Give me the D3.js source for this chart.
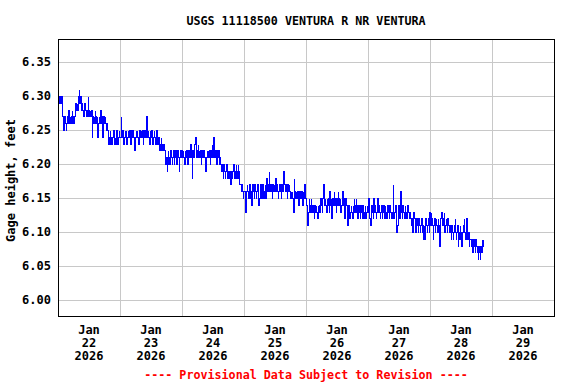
<!DOCTYPE html>
<html>
<head>
<meta charset="utf-8">
<script src="https://cdn.jsdelivr.net/npm/d3@7"></script>
<style>
  body { margin: 0; background: #fff; }
  text { font-family: "DejaVu Sans Mono", monospace; font-weight: bold; font-size: 12px; }
</style>
</head>
<body>
<svg width="576" height="384"></svg>
<script>
const width = 576;
const height = 384;

// gage height, hundredths of a foot above 6.00 ft, every 15 minutes from midnight
const jan22 = [30,30,29,30,29,30,
  27,26,25,26,27,26,25,26,27,26,28,26,27,26,27,28,26,27,26,27,
  28,29,28,29,28,30,31,29,30,28,
  29,28,27,28,27,29,28,27,28,27,30,28,27,28,27,28,
  24,27,26,27,26,28,27,26,27,24,26,27,26,28,26,27,24,26,27,26,27,26,25,26,25,
  24,23,24,25,23,24,23,24,25,24,23,24,23,25,24,23,24,25,24];
const jan23 = [24,27,24,25,24,23,24,25,24,25,23,24,25,24,25,24,23,25,24,25,
  24,23,22,24,25,24,25,24,23,24,25,24,25,24,25,23,24,25,24,25,
  24,27,24,25,24,23,25,24,25,24,23,24,25,24,23,24,25,24,23,
  24,23,22,23,24,22,23,22,23,22,
  21,20,21,19,21,22,20,21,20,22,21,20,21,22,20,21,22,21,20,21,22,21,19,21,22,21,22];
const jan24 = [21,22,21,20,22,21,22,21,20,21,22,21,22,23,21,18,22,21,22,23,
  24,22,21,22,23,21,22,21,22,20,21,22,21,22,21,20,19,21,22,21,
  22,21,22,20,21,22,23,21,24,22,21,22,21,20,22,21,22,20,21,
  20,19,20,19,18,20,19,18,19,20,19,18,19,
  18,19,18,17,19,18,19,20,18,19,18,20,19,18,20,19,18,17,
  17,16,17,16,15,16];
const jan25 = [16,15,13,16,17,16,15,16,17,15,16,14,16,17,16,15,17,16,15,16,
  17,16,14,15,16,17,16,15,17,16,15,16,17,15,18,16,
  17,16,19,17,16,17,16,15,17,16,17,16,18,16,17,16,15,16,17,16,
  17,15,16,17,16,19,17,16,17,16,15,17,16,17,16,
  15,16,15,16,15,13,18,16,15,16,15,16,15,14,16,15,16,15,16,14,16,15,17,16,15];
const jan26 = [14,12,11,13,15,14,13,15,14,13,14,13,12,14,13,14,13,12,14,13,14,13,
  15,14,13,15,16,17,14,15,14,13,15,14,15,13,16,14,15,12,14,15,
  14,16,15,14,13,15,14,16,15,14,15,13,14,15,16,14,15,12,14,15,14,
  13,11,14,13,12,13,14,13,12,14,13,15,14,13,15,14,12,13,14,13,
  12,14,13,12,14,13,12,13,14,12,13,14,13];
const jan27 = [15,13,12,11,13,14,13,12,15,13,14,13,12,13,15,13,14,13,12,13,
  14,12,13,14,13,12,14,13,12,13,14,13,12,14,13,12,13,12,17,13,
  12,13,14,12,10,11,13,14,12,13,16,13,12,14,13,12,13,14,12,13,
  12,14,13,12,13,
  12,11,12,10,11,13,12,11,10,11,12,11,10,12,11,10,11,12,10,11,
  9,11,10,9,12,11,10,11,12,10,13];
const jan28 = [11,13,12,11,9,11,12,10,11,12,11,10,12,11,8,11,12,13,11,12,
  11,13,10,11,12,11,10,12,11,10,11,
  10,9,11,10,9,10,11,12,10,9,10,11,8,10,9,11,10,8,9,10,
  11,12,10,9,11,12,10,9,10,8,9,
  9,8,9,7,8,9,8,7,9,8,7,8,6,8,7,6,8,7,9,8,9];

const days = [jan22, jan23, jan24, jan25, jan26, jan27, jan28];
const dayLabels = ["22", "23", "24", "25", "26", "27", "28", "29"];
const monthLabel = "Jan";
const yearLabel = "2026";
const yTicks = [6.00, 6.05, 6.10, 6.15, 6.20, 6.25, 6.30, 6.35];

const data = [];
days.forEach((vals, d) => {
  vals.forEach((v, i) => {
    data.push({ date: new Date(2026, 0, 22 + d, 0, 15 * i), value: 6 + v / 100 });
  });
});

const plotLeft = 58, plotRight = 554, plotTop = 39, plotBottom = 316;

const x = d3.scaleTime()
  .domain([new Date(2026, 0, 22), new Date(2026, 0, 30)])
  .range([plotLeft, plotRight]);
const y = d3.scaleLinear()
  .domain([5.9765, 6.3838])
  .range([plotBottom, plotTop]);

const svg = d3.select("svg");

// grid
const grid = svg.append("g")
    .attr("stroke", "#c8c8c8")
    .attr("stroke-width", 1)
    .attr("shape-rendering", "crispEdges");
grid.selectAll("line.h")
  .data(yTicks)
  .join("line")
    .attr("class", "h")
    .attr("x1", plotLeft).attr("x2", plotRight)
    .attr("y1", d => Math.round(y(d)) + 0.5)
    .attr("y2", d => Math.round(y(d)) + 0.5);
const dayTicks = d3.timeDay.range(new Date(2026, 0, 23), new Date(2026, 0, 30));
grid.selectAll("line.v")
  .data(dayTicks)
  .join("line")
    .attr("class", "v")
    .attr("y1", plotTop).attr("y2", plotBottom)
    .attr("x1", d => Math.round(x(d)) + 0.5)
    .attr("x2", d => Math.round(x(d)) + 0.5);

// data line
svg.append("path")
    .datum(data)
    .attr("fill", "none")
    .attr("stroke", "#0000ff")
    .attr("stroke-width", 1.2)
    .attr("shape-rendering", "crispEdges")
    .attr("d", d3.line()
      .curve(d3.curveStepAfter)
      .x(d => Math.round(x(d.date)) + 0.5)
      .y(d => Math.round(y(d.value)) + 0.5));

// frame
svg.append("rect")
    .attr("x", plotLeft + 0.5).attr("y", plotTop + 0.5)
    .attr("width", plotRight - plotLeft).attr("height", plotBottom - plotTop)
    .attr("fill", "none")
    .attr("stroke", "#000")
    .attr("shape-rendering", "crispEdges");

// y tick labels
svg.append("g")
  .selectAll("text")
  .data(yTicks)
  .join("text")
    .attr("x", 51)
    .attr("y", d => y(d))
    .attr("dy", "0.37em")
    .attr("text-anchor", "end")
    .text(d => d.toFixed(2));

// x tick labels at noon
const labelDays = d3.timeDay.range(new Date(2026, 0, 22), new Date(2026, 0, 30));
const xl = svg.append("g")
  .selectAll("text")
  .data(labelDays)
  .join("text")
    .attr("text-anchor", "middle")
    .attr("y", 334);
xl.each(function(d, i) {
  const cx = x(d3.timeHour.offset(d, 12));
  const t = d3.select(this);
  t.append("tspan").attr("x", cx).text(monthLabel);
  t.append("tspan").attr("x", cx).attr("dy", 13).text(dayLabels[i]);
  t.append("tspan").attr("x", cx).attr("dy", 13).text(yearLabel);
});

svg.append("text")
    .attr("x", (plotLeft + plotRight) / 2)
    .attr("y", 25)
    .attr("text-anchor", "middle")
    .style("font-size", "11.7px")
    .text("USGS 11118500 VENTURA R NR VENTURA");

svg.append("text")
    .attr("transform", `translate(15,${(plotTop + plotBottom) / 2 + 3}) rotate(-90)`)
    .attr("text-anchor", "middle")
    .text("Gage height, feet");

svg.append("text")
    .attr("x", (plotLeft + plotRight) / 2)
    .attr("y", 379)
    .attr("text-anchor", "middle")
    .attr("fill", "#ff0000")
    .style("font-size", "11.7px")
    .text("---- Provisional Data Subject to Revision ----");
</script>
</body>
</html>
